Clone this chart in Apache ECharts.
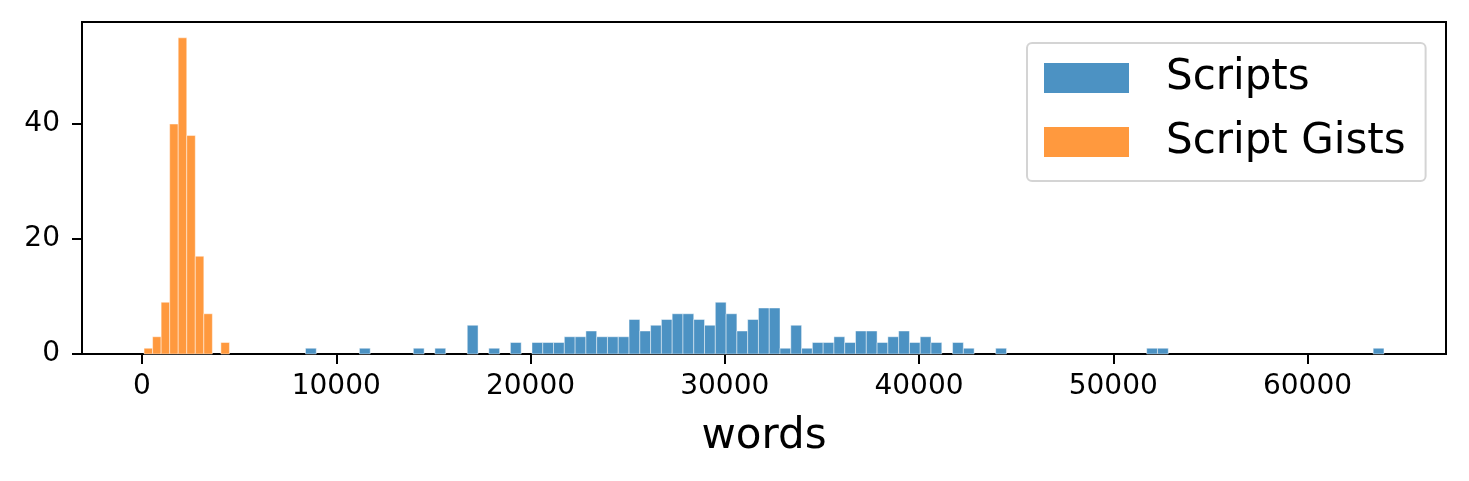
<!DOCTYPE html>
<html>
<head>
<meta charset="utf-8">
<title>words histogram</title>
<script src="https://cdn.jsdelivr.net/npm/echarts@6/dist/echarts.min.js"></script>
<style>
    html, body { margin: 0; padding: 0; background: #fff; }
    #chart { width: 1469px; height: 481px; }
</style>
</head>
<body>
<div id="chart"></div>
<script type="text/javascript">
    // histogram counts
    var scriptCounts = [
        1, 0, 0, 0, 0, 1, 0, 0, 0, 0,
        1, 0, 1, 0, 0, 5, 0, 1, 0, 2,
        0, 2, 2, 2, 3, 3, 4, 3, 3, 3,
        6, 4, 5, 6, 7, 7, 6, 5, 9, 7,
        4, 6, 8, 8, 1, 5, 1, 2, 2, 3,
        2, 4, 4, 2, 3, 4, 2, 3, 2, 0,
        2, 1, 0, 0, 1, 0, 0, 0, 0, 0,
        0, 0, 0, 0, 0, 0, 0, 0, 1, 1,
        0, 0, 0, 0, 0, 0, 0, 0, 0, 0,
        0, 0, 0, 0, 0, 0, 0, 0, 0, 1
    ];
    var scriptStart = 8416;   // left edge of first bin (words)
    var scriptBinWidth = 555.2;

    var gistCounts = [1, 3, 9, 40, 55, 38, 17, 7, 0, 2];
    var gistStart = 105;
    var gistBinWidth = 439.5;

    var xTicks = [0, 10000, 20000, 30000, 40000, 50000, 60000];
    var yTicks = [0, 20, 40];

    // [left edge, right edge, count]
    function toBins(counts, start, width) {
        var list = [];
        for (var i = 0; i < counts.length; i++) {
            if (counts[i] > 0) {
                list.push([start + i * width, start + (i + 1) * width, counts[i]]);
            }
        }
        return list;
    }

    function renderBin(params, api) {
        var topLeft = api.coord([api.value(0), api.value(2)]);
        var bottomRight = api.coord([api.value(1), 0]);
        return {
            type: 'rect',
            shape: {
                x: topLeft[0],
                y: topLeft[1],
                width: bottomRight[0] - topLeft[0],
                height: bottomRight[1] - topLeft[1]
            },
            style: {
                fill: api.visual('color'),
                stroke: 'rgba(255,255,255,0.45)',
                lineWidth: 1
            }
        };
    }

    var font = 'DejaVu Sans';
    var chart = echarts.init(document.getElementById('chart'), null, {renderer: 'canvas'});
    var option = {
        animation: false,
        backgroundColor: '#ffffff',
        textStyle: {fontFamily: font},
        grid: {
            left: 82,
            right: 23,
            top: 22,
            bottom: 127,
            show: true,
            borderColor: '#000',
            borderWidth: 2,
            backgroundColor: 'transparent'
        },
        legend: {
            orient: 'vertical',
            left: 1027,
            top: 43,
            padding: [13, 20, 17, 17],
            itemWidth: 85,
            itemHeight: 30,
            itemGap: 20,
            borderColor: 'rgba(204,204,204,0.85)',
            borderWidth: 2,
            borderRadius: 5,
            backgroundColor: 'rgba(255,255,255,0.8)',
            textStyle: {
                fontFamily: font,
                fontSize: 42,
                lineHeight: 34,
                color: '#000',
                padding: [10, 0, 0, 32]
            },
            data: [
                {name: 'Scripts', icon: 'rect'},
                {name: 'Script Gists', icon: 'rect'}
            ]
        },
        xAxis: {
            type: 'value',
            min: -3090,
            max: 67130,
            name: 'words',
            nameLocation: 'middle',
            nameGap: 62,
            nameTextStyle: {fontFamily: font, fontSize: 42, color: '#000'},
            splitLine: {show: false},
            axisLine: {show: true, onZero: false, lineStyle: {color: '#000', width: 2}},
            axisTick: {
                show: true,
                length: 10,
                customValues: xTicks,
                lineStyle: {color: '#000', width: 2}
            },
            axisLabel: {
                customValues: xTicks,
                margin: 19,
                fontFamily: font,
                fontSize: 28,
                color: '#000',
                formatter: function (v) { return String(v); }
            }
        },
        yAxis: {
            type: 'value',
            min: 0,
            max: 57.75,
            splitLine: {show: false},
            axisLine: {show: true, onZero: false, lineStyle: {color: '#000', width: 2}},
            axisTick: {
                show: true,
                length: 10,
                customValues: yTicks,
                lineStyle: {color: '#000', width: 2}
            },
            axisLabel: {
                customValues: yTicks,
                margin: 22,
                fontFamily: font,
                fontSize: 28,
                color: '#000',
                formatter: function (v) { return String(v); }
            }
        },
        series: [
            {
                name: 'Scripts',
                type: 'custom',
                renderItem: renderBin,
                itemStyle: {color: '#4C92C3'},
                encode: {x: [0, 1], y: 2},
                data: toBins(scriptCounts, scriptStart, scriptBinWidth)
            },
            {
                name: 'Script Gists',
                type: 'custom',
                renderItem: renderBin,
                itemStyle: {color: '#FF993E'},
                encode: {x: [0, 1], y: 2},
                data: toBins(gistCounts, gistStart, gistBinWidth)
            }
        ]
    };
    chart.setOption(option);
</script>
</body>
</html>
